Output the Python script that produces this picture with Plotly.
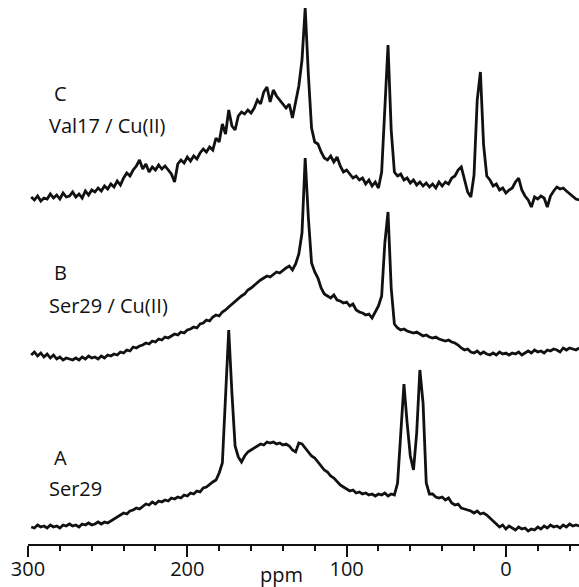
import plotly.graph_objects as go

# chemical shift grid (ppm), sampled every 2 ppm from 298 down to -46
ppm = list(range(298, -47, -2))

# trace A : Ser29 (intensity above its own baseline)
spec_A = [
    1, 0, 3, 1, 2, 0, 3, 1, 2, 0,
    3, 2, 4, 2, 3, 1, 4, 3, 5, 3,
    4, 6, 4, 6, 5, 7, 9, 11, 13, 15,
    14, 17, 18, 20, 19, 22, 24, 23, 26, 24,
    27, 26, 28, 27, 30, 29, 31, 30, 33, 32,
    35, 34, 37, 36, 40, 41, 44, 46, 48, 55,
    65, 125, 198, 135, 82, 71, 66, 72, 76, 78,
    80, 82, 84, 83, 86, 85, 86, 84, 85, 83,
    84, 82, 78, 76, 85, 84, 80, 76, 72, 70,
    66, 62, 58, 56, 52, 50, 46, 43, 41, 39,
    37, 38, 35, 36, 34, 35, 33, 34, 32, 34,
    33, 35, 32, 34, 33, 45, 100, 144, 105, 72,
    58, 95, 158, 125, 45, 34, 34, 31, 30, 31,
    28, 30, 25, 23, 24, 20, 19, 18, 17, 15,
    17, 14, 15, 13, 10, 6, 4, 1, 3, -1,
    2, 0, -2, 1, -1, 0, -3, -1, -2, 1,
    -1, 2, 0, 3, 1, 2, 0, 3, 1, 4,
    2, 3, 2,
]

# trace B : Ser29 / Cu(II)
spec_B = [
    3, 6, 2, 5, 1, 4, 0, 3, -1, 1,
    -2, 0, -1, -2, 0, -2, 1, -1, 2, 0,
    1, -1, 2, 0, 3, 2, 4, 3, 6, 5,
    8, 7, 11, 10, 12, 13, 15, 14, 17, 16,
    19, 18, 21, 20, 22, 24, 23, 26, 25, 28,
    29, 31, 30, 34, 35, 38, 37, 41, 43, 42,
    46, 48, 51, 54, 56, 60, 62, 64, 68, 70,
    73, 76, 78, 80, 82, 81, 84, 86, 85, 88,
    90, 92, 88, 94, 104, 125, 200, 140, 95, 86,
    80, 70, 64, 62, 60, 63, 58, 57, 55, 56,
    52, 54, 48, 46, 45, 43, 44, 40, 46, 52,
    62, 115, 146, 70, 34, 30, 28, 29, 27, 26,
    25, 26, 24, 22, 23, 21, 20, 21, 19, 18,
    17, 18, 16, 15, 13, 10, 8, 9, 6, 5,
    7, 4, 6, 4, 3, 5, 3, 6, 4, 5,
    3, 5, 4, 6, 3, 5, 7, 5, 8, 6,
    7, 5, 8, 7, 9, 8, 6, 10, 8, 10,
    9, 8, 10,
]

# trace C : Val17 / Cu(II)
spec_C = [
    3, 0, 4, -1, 2, 1, 6, 2, 5, 1,
    7, 3, 4, 8, 3, 6, 2, 9, 5, 10,
    8, 12, 9, 14, 11, 16, 13, 19, 15, 22,
    27, 24, 30, 34, 40, 31, 36, 28, 33, 30,
    35, 31, 34, 30, 26, 18, 36, 40, 37, 43,
    39, 44, 41, 47, 51, 48, 53, 50, 62, 58,
    76, 66, 90, 74, 70, 84, 88, 86, 90, 87,
    92, 100, 96, 108, 113, 98, 110, 104, 100, 96,
    92, 96, 82, 98, 114, 140, 192, 125, 72, 58,
    56, 48, 42, 40, 44, 38, 43, 34, 28, 30,
    26, 22, 24, 20, 22, 16, 20, 14, 18, 12,
    28, 95, 155, 70, 28, 24, 26, 20, 22, 17,
    20, 15, 18, 14, 17, 13, 16, 12, 18, 14,
    18, 16, 22, 24, 30, 33, 20, 8, 3, 25,
    100, 128, 55, 24, 20, 14, 16, 10, 12, 7,
    10, 12, 18, 22, 10, 4, 0, -7, 3, 1,
    4, 2, -7, 4, 9, 13, 11, 12, 9, 6,
    4, 1, 0,
]

major_ticks = [300, 200, 100, 0]
minor_ticks = [v for v in range(300, -47, -20) if v not in major_ticks]

labels = [
    ("C", "Val17 / Cu(II)", 93, 126),
    ("B", "Ser29 / Cu(II)", 272, 305),
    ("A", "Ser29", 458, 488),
]

W, H = 579, 587
base_px = {"A": 528, "B": 358, "C": 200}
axis_px = 545
FONT = "Open Sans, Liberation Sans, sans-serif"

fig = go.Figure()
for name, spec in (("A", spec_A), ("B", spec_B), ("C", spec_C)):
    off = H - base_px[name]
    fig.add_trace(go.Scatter(
        x=ppm, y=[v + off for v in spec], mode="lines",
        line=dict(color="#111111", width=2.8), hoverinfo="skip", showlegend=False,
    ))

axis_y = (H - axis_px) / H
fig.update_layout(
    width=W, height=H, margin=dict(l=0, r=0, t=0, b=0),
    paper_bgcolor="white", plot_bgcolor="white",
    xaxis=dict(
        range=[317.6, -45.9], showgrid=False, zeroline=False, showline=False,
        anchor="free", position=axis_y,
        tickmode="array", tickvals=major_ticks, ticktext=[str(v) for v in major_ticks],
        ticks="outside", ticklen=11, tickwidth=2, tickcolor="#111111",
        ticklabelstandoff=-5,
        tickfont=dict(family=FONT, size=20, color="#111111"),
        minor=dict(tickmode="array", tickvals=minor_ticks, ticks="outside",
                   ticklen=5, tickwidth=2, tickcolor="#111111"),
    ),
    yaxis=dict(range=[0, H], domain=[0, 1], visible=False),
)
fig.add_shape(type="line", xref="x", yref="paper", x0=300, x1=-45.9,
              y0=axis_y, y1=axis_y, line=dict(color="#111111", width=2))

for letter, name, yl, yn in labels:
    fig.add_annotation(xref="paper", yref="paper", x=52 / W, y=(H - yl) / H,
                       xanchor="left", yanchor="middle", showarrow=False,
                       text=letter, font=dict(family=FONT, size=20, color="#111111"))
    fig.add_annotation(xref="paper", yref="paper", x=47 / W, y=(H - yn) / H,
                       xanchor="left", yanchor="middle", showarrow=False,
                       text=name, font=dict(family=FONT, size=20, color="#111111"))

fig.add_annotation(xref="paper", yref="paper", x=281 / W, y=(H - 574) / H,
                   xanchor="center", yanchor="middle", showarrow=False,
                   text="ppm", font=dict(family=FONT, size=20, color="#111111"))

fig.write_html("out.html")
